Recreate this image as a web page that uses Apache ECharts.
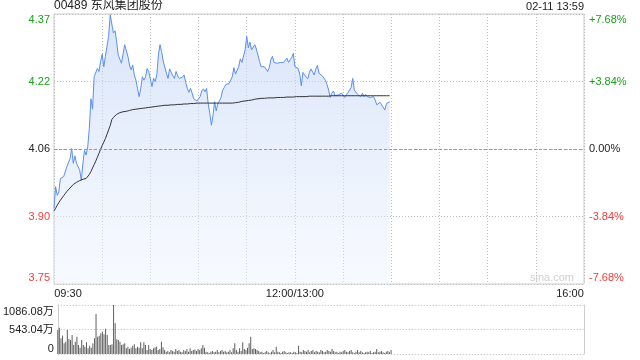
<!DOCTYPE html>
<html><head><meta charset="utf-8">
<script src="https://cdn.jsdelivr.net/npm/echarts@6.0.0/dist/echarts.min.js"></script>
<style>html,body{margin:0;padding:0;background:#fff}#c{width:640px;height:360px}</style>
</head><body><div id="c"></div><script>
const stockTitle = '00489 东风集团股份';
const stampText = '02-11 13:59';
const watermark = 'sina.com';
const prevClose = 4.06;
const pctTicks = [-7.68, -3.84, 0, 3.84, 7.68];
const timeTickLabels = {0: '09:30', 150: '12:00/13:00', 330: '16:00'};
const volumeTicks = [0, 543.04, 1086.08];

// one value per minute, 09:30 .. 11:59 then 13:00 .. 13:59
const price = [
3.922,3.973,3.953,3.961,3.992,3.996,3.996,3.992,4.019,4.017,
4.038,4.061,4.027,4.044,4.027,4.023,4.011,3.988,4.027,4.057,
4.046,4.065,4.108,4.176,4.152,4.227,4.231,4.246,4.239,4.262,
4.279,4.250,4.274,4.270,4.320,4.370,4.366,4.328,4.333,4.308,
4.277,4.279,4.258,4.262,4.301,4.297,4.274,4.254,4.243,4.254,
4.231,4.219,4.200,4.181,4.200,4.227,4.219,4.227,4.246,4.239,
4.235,4.204,4.223,4.216,4.231,4.277,4.301,4.285,
4.263,4.262,4.235,4.223,4.245,4.243,4.229,4.223,4.239,4.229,
4.223,4.222,4.226,4.231,4.214,4.200,4.191,4.200,4.189,4.176,
4.172,4.171,4.173,4.181,4.194,4.199,4.192,4.200,4.165,4.142,
4.115,4.138,4.169,4.148,4.165,4.171,4.179,4.196,4.202,4.209,
4.209,4.211,4.212,4.227,4.248,4.233,4.237,4.250,4.268,4.260,
4.262,4.289,4.320,4.294,4.307,4.289,4.293,4.301,4.291,4.277,
4.262,4.250,4.250,4.250,4.250,4.239,4.248,4.266,4.274,4.260,
4.258,4.258,4.258,
4.260,4.260,4.260,4.263,4.270,4.260,4.266,4.271,4.281,4.250,
4.250,4.246,4.233,4.206,4.237,4.231,4.227,4.222,4.237,4.245,
4.243,4.231,4.245,4.253,4.235,4.231,4.229,4.231,4.219,4.209,
4.196,4.179,4.189,4.194,4.183,4.179,4.185,4.189,4.189,4.185,
4.179,4.185,4.190,4.194,4.202,4.223,4.196,4.192,4.186,4.189,
4.181,4.189,4.181,4.186,4.181,4.185,4.179,4.176,4.181,4.173,
4.162,4.165,4.168,4.162,4.158,4.150,4.165,4.169,4.169
];
const avgPrice = [
3.917,3.923,3.930,3.936,3.942,3.947,3.952,3.957,3.962,3.966,
3.970,3.974,3.978,3.981,3.983,3.985,3.987,3.988,3.990,3.991,
3.992,3.995,4.001,4.008,4.016,4.024,4.032,4.041,4.050,4.059,
4.068,4.076,4.084,4.094,4.104,4.114,4.128,4.133,4.137,4.140,
4.142,4.144,4.145,4.146,4.147,4.147,4.148,4.149,4.150,4.151,
4.151,4.152,4.152,4.153,4.153,4.154,4.154,4.155,4.155,4.156,
4.157,4.157,4.158,4.158,4.159,4.159,4.160,4.160,4.160,4.161,
4.161,4.161,4.162,4.162,4.162,4.162,4.163,4.163,4.163,4.163,
4.164,4.164,4.164,4.164,4.165,4.165,4.165,4.165,4.166,4.166,
4.166,4.166,4.166,4.166,4.166,4.166,4.166,4.166,4.166,4.166,
4.166,4.166,4.166,4.166,4.166,4.166,4.166,4.166,4.166,4.166,
4.166,4.166,4.167,4.167,4.168,4.168,4.169,4.170,4.170,4.171,
4.172,4.172,4.173,4.173,4.174,4.175,4.175,4.176,4.176,4.177,
4.177,4.177,4.177,4.178,4.178,4.178,4.178,4.178,4.179,4.179,
4.179,4.179,4.179,4.179,4.180,4.180,4.180,4.180,4.180,4.180,
4.180,4.181,4.181,4.181,4.181,4.181,4.181,4.181,4.182,4.182,
4.182,4.182,4.182,4.182,4.182,4.182,4.182,4.182,4.182,4.182,
4.182,4.182,4.182,4.183,4.183,4.183,4.183,4.183,4.183,4.183,
4.183,4.183,4.183,4.183,4.183,4.183,4.183,4.183,4.183,4.183,
4.183,4.183,4.183,4.183,4.183,4.183,4.183,4.183,4.183,4.183,
4.183,4.183,4.183,4.183,4.183,4.183,4.183,4.183,4.183,4.183
];
// volume per minute, in 万
const volume = [
532,584,350,410,236,273,532,330,310,420,
200,273,380,200,140,310,200,163,260,126,
185,140,230,347,887,384,406,460,495,436,
560,420,200,200,214,1086.08,680,325,310,273,
200,214,236,126,163,111,140,185,214,126,
163,140,259,126,259,200,89,200,111,89,
126,150,163,89,111,273,150,89,52,67,
37,89,67,52,111,67,89,52,37,89,
67,111,52,126,67,89,100,67,111,89,
126,200,140,52,37,22,52,67,37,52,
89,37,67,89,52,67,37,52,89,37,
126,236,89,52,126,67,259,111,89,140,
236,384,111,126,111,89,67,37,52,22,
37,67,37,22,52,89,37,163,52,37,
22,52,67,37,22,37,37,22,52,37,
22,185,52,37,89,67,52,89,37,67,
89,37,67,52,37,89,67,37,52,89,
67,52,111,67,37,52,22,52,37,67,
89,52,37,67,89,37,22,52,89,37,
67,37,22,37,52,37,67,22,37,52,
111,37,52,67,37,22,52,67,37,89
];

const GREEN = '#1a9f1a', RED = '#f23b3b', DARK = '#222';
const FONT = 'Arial, "Liberation Sans", "Noto Sans CJK SC", sans-serif';
const near = (a, b) => Math.abs(a - b) < 1e-6;

const pct = p => (p / prevClose - 1) * 100;
const priceData = price.map((p, i) => [i, pct(p)]);
const avgData = avgPrice.map((p, i) => [i, pct(p)]);
const volData = volume.map((v, i) => [i, v]);

function leftLabel(v) {
  const t = (prevClose * (1 + v / 100)).toFixed(2);
  if (near(v, pctTicks[4])) return '{tg|' + t + '}';
  if (near(v, pctTicks[3])) return '{mg|' + t + '}';
  if (near(v, 0)) return '{mk|' + t + '}';
  if (near(v, pctTicks[1])) return '{mr|' + t + '}';
  return '{br|' + t + '}';
}
function rightLabel(v) {
  if (near(v, 0)) return '{mk|0.00%}';
  const t = (v > 0 ? '+' : '') + v.toFixed(2) + '%';
  if (near(v, pctTicks[4])) return '{tg|' + t + '}';
  if (near(v, pctTicks[3])) return '{mg|' + t + '}';
  if (near(v, pctTicks[1])) return '{mr|' + t + '}';
  return '{br|' + t + '}';
}
const sideRich = {
  tg: {color: GREEN, fontSize: 11, fontFamily: FONT, padding: [11, 0, 0, 0]},
  mg: {color: GREEN, fontSize: 11, fontFamily: FONT},
  mk: {color: DARK, fontSize: 11, fontFamily: FONT},
  mr: {color: RED, fontSize: 11, fontFamily: FONT},
  br: {color: RED, fontSize: 11, fontFamily: FONT, padding: [0, 0, 12, 0]}
};

const chart = echarts.init(document.getElementById('c'), null, {renderer: 'canvas'});
chart.setOption({
  animation: false,
  textStyle: {fontFamily: FONT},
  title: [
    {text: stockTitle, left: 54, top: 0, padding: 0, textStyle: {fontSize: 12, fontWeight: 'normal', color: '#222', fontFamily: FONT}},
    {text: stampText, right: 56, top: 1, padding: 0, textStyle: {fontSize: 11, fontWeight: 'normal', color: '#222', fontFamily: FONT}}
  ],
  graphic: [{
    type: 'text', right: 66, top: 272, silent: true,
    style: {text: watermark, fill: '#cfcfcf', fontSize: 11, fontFamily: FONT}
  }],
  grid: [
    {left: 54, right: 56, top: 14, height: 270, show: true, borderColor: '#cccccc', borderWidth: 1, backgroundColor: 'transparent'},
    {left: 54, right: 56, top: 305, height: 49}
  ],
  xAxis: [
    {type: 'value', gridIndex: 0, min: 0, max: 330, interval: 30,
     axisLine: {show: false}, axisTick: {show: false},
     splitLine: {show: true, lineStyle: {color: '#bdbdbd', type: [1, 2], width: 1}},
     axisLabel: {show: true, margin: 4, showMinLabel: true, showMaxLabel: true,
       formatter: v => v === 0 ? '{l|' + timeTickLabels[0] + '}' : v === 330 ? '{r|' + timeTickLabels[330] + '}' : (timeTickLabels[v] ? '{c|' + timeTickLabels[v] + '}' : ''),
       rich: {
         l: {color: DARK, fontSize: 11, fontFamily: FONT, padding: [0, 0, 0, 28]},
         c: {color: DARK, fontSize: 11, fontFamily: FONT},
         r: {color: DARK, fontSize: 11, fontFamily: FONT, padding: [0, 28, 0, 0]}
       }}},
    {type: 'value', gridIndex: 1, min: 0, max: 330, interval: 30,
     axisLine: {show: false}, axisTick: {show: false}, axisLabel: {show: false}, splitLine: {show: false}}
  ],
  yAxis: [
    {type: 'value', gridIndex: 0, min: -7.68, max: 7.68, interval: 3.84, position: 'left',
     axisLine: {show: false}, axisTick: {show: false},
     splitLine: {show: true, lineStyle: {color: '#bdbdbd', type: [1, 2], width: 1}},
     axisLabel: {margin: 4, formatter: leftLabel, rich: sideRich}},
    {type: 'value', gridIndex: 0, min: -7.68, max: 7.68, interval: 3.84, position: 'right',
     axisLine: {show: false}, axisTick: {show: false}, splitLine: {show: false},
     axisLabel: {margin: 5, formatter: rightLabel, rich: sideRich}},
    {type: 'value', gridIndex: 1, min: 0, max: volumeTicks[2], interval: volumeTicks[1], position: 'left',
     axisLine: {show: true, lineStyle: {color: '#cccccc'}}, axisTick: {show: false},
     splitLine: {show: true, lineStyle: {color: '#bdbdbd', type: [1, 2], width: 1}},
     axisLabel: {margin: 4,
       formatter: v => near(v, volumeTicks[2]) ? '{t|' + volumeTicks[2].toFixed(2) + '万}' : near(v, volumeTicks[1]) ? '{m|' + volumeTicks[1].toFixed(2) + '万}' : '{b|0}',
       rich: {
         t: {color: DARK, fontSize: 11, fontFamily: FONT, padding: [13, 0, 0, 0]},
         m: {color: DARK, fontSize: 11, fontFamily: FONT},
         b: {color: DARK, fontSize: 11, fontFamily: FONT, padding: [0, 0, 11, 0]}
       }}},
    {type: 'value', gridIndex: 1, min: 0, max: volumeTicks[2], interval: volumeTicks[1], position: 'right',
     axisLine: {show: true, lineStyle: {color: '#cccccc'}}, axisTick: {show: false},
     axisLabel: {show: false}, splitLine: {show: false}}
  ],
  series: [
    {type: 'line', xAxisIndex: 0, yAxisIndex: 0, data: priceData, showSymbol: false, silent: true,
     lineStyle: {color: '#5a8ef0', width: 1},
     areaStyle: {origin: 'start', color: new echarts.graphic.LinearGradient(0, 0, 0, 1, [
       {offset: 0, color: 'rgba(186,208,245,0.8)'},
       {offset: 1, color: 'rgba(236,242,253,0.6)'}
     ])}},
    {type: 'line', xAxisIndex: 0, yAxisIndex: 0, data: avgData, showSymbol: false, silent: true,
     lineStyle: {color: '#333333', width: 1},
     markLine: {silent: true, symbol: 'none', label: {show: false},
       lineStyle: {color: '#9a9a9a', type: [3, 2], width: 1}, data: [{yAxis: 0}]}},
    {type: 'bar', xAxisIndex: 1, yAxisIndex: 2, data: volData, barWidth: 1, silent: true,
     itemStyle: {color: '#5f5f5f'}}
  ]
});
</script></body></html>
